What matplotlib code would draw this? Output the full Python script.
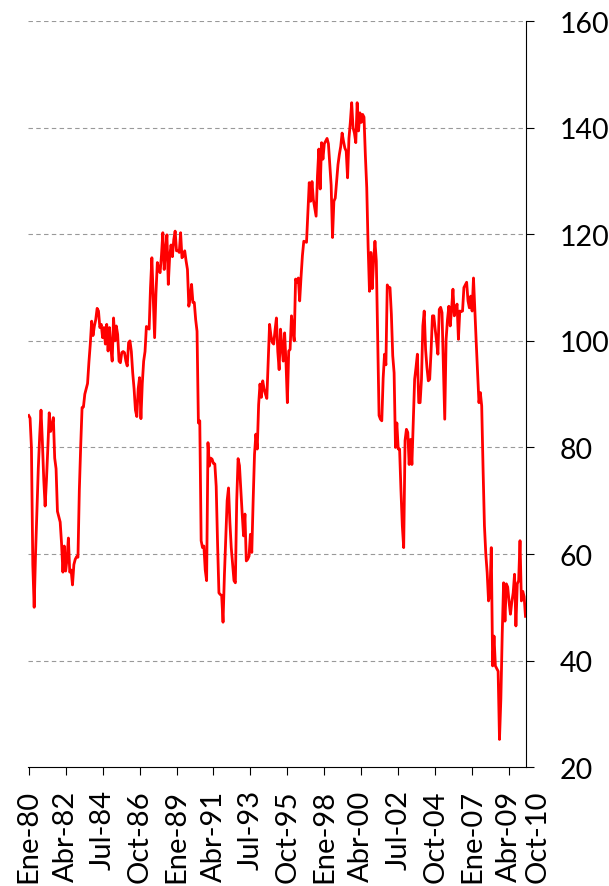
import matplotlib
matplotlib.use("Agg")
import matplotlib.pyplot as plt
import matplotlib.transforms as mtransforms
import numpy as np

# monthly index, Ene-80 .. Abr-10
values_1980s = [
    86, 85.5, 80, 58, 50, 60, 68, 76, 82, 87, 81, 74,
    69, 74, 80, 86.5, 83, 84, 85.6, 78, 76, 68, 67, 66,
    62, 56.6, 61.5, 56.8, 59, 63, 56.6, 57, 54.2, 58, 59, 59.5,
    59.4, 72, 80.3, 87.5, 87.6, 90, 91, 92, 96, 99.4, 103.7, 101,
    102.8, 104, 106.1, 105.6, 102.5, 103.1, 100.6, 102.5, 99.4, 103.1, 98.1, 102.5,
    98.7, 96.2, 104.3, 100, 102.8, 101.2, 96.2, 95.9, 97.8, 98, 97.8, 96.2,
    95.3, 99.7, 100, 98, 94, 91, 87, 85.8, 91, 93.1, 85.4, 92,
    96.2, 98, 102.7, 102.5, 102.2, 110, 115.6, 108, 100.6, 109, 114.7, 113.5,
    112.8, 116, 120.3, 113.4, 117, 119.9, 110.6, 115.8, 118, 115.8, 119, 120.6,
    116.9, 117, 116.6, 120.3, 115.6, 116, 116.9, 115, 113.4, 106.5, 108, 110.6,
]
values_1990s = [
    107.2, 107.2, 104, 101.8, 84.6, 85, 62.5, 61.2, 61.5, 57, 55, 80.9,
    76.5, 78, 77.8, 77, 76.9, 72.7, 62, 52.7, 52.4, 52.2, 47.2, 56,
    62.8, 70, 72.4, 66, 61.2, 58, 55, 54.6, 70, 77.9, 76.6, 72,
    67.5, 63.4, 67.5, 58.7, 59, 59.6, 63.7, 60.3, 70, 78.7, 82.5, 79.7,
    88, 91.9, 89.4, 92.5, 91, 90, 89.2, 96, 103.1, 101, 99.7, 99.4,
    102, 104.3, 98, 94.6, 102.2, 99, 96.2, 101.5, 96, 88.4, 98.1, 98.4,
    104.7, 102, 100, 111.6, 111, 111.8, 107.5, 112, 116, 118.7, 118.6, 118.5,
    124, 129.7, 126.2, 129.9, 126.5, 125, 123.4, 131, 136, 128.5, 137.2, 134.1,
    137, 137.5, 138, 137, 133, 129.2, 119.4, 126.2, 126.8, 130, 133.1, 135,
    136.5, 139, 137.5, 136.2, 135.6, 130.6, 138, 141, 144.7, 140, 139, 137.2,
]
values_2000s = [
    144.7, 139.4, 142.8, 141, 142.5, 142, 134.8, 128.8, 117.8, 109.3, 116.6, 109.8,
    115, 118.7, 115, 100, 86, 85.3, 85, 93, 97.5, 95.5, 110.5, 110,
    110, 105, 97.2, 94, 80, 84.6, 79.7, 79.7, 72, 65.3, 61.2, 81.3,
    83.4, 82.8, 76.8, 81.5, 76.8, 85, 92.8, 95, 97.5, 88.4, 88.4, 92.8,
    102.8, 105.6, 98.4, 95, 92.5, 92.8, 98, 104.7, 104.7, 102.2, 100, 97.5,
    105.9, 106.3, 105.3, 95, 85.3, 100.3, 104, 106.5, 102.8, 106, 109.7, 104.7,
    106, 106.9, 100.3, 105.6, 105.5, 105.6, 110, 110.5, 111, 107.5, 106.2, 108.4,
    105.6, 111.8, 105.6, 99.7, 94, 88.4, 90.3, 87.8, 76, 65.3, 60, 56.5,
    51.2, 52.4, 61.2, 39, 44.6, 39, 38.5, 38, 25.2, 32.8, 45, 54.6,
    47.4, 54.4, 53.8, 51, 48.7, 51, 52.7, 56.2, 46.5, 54.4, 55, 62.5,
]
values_2010 = [51.2, 53, 52, 48.3]

tick_months = [0, 27, 54, 81, 108, 135, 162, 189, 216, 243, 270, 297, 324, 351]
tick_labels = ["Ene-80", "Abr-82", "Jul-84", "Oct-86", "Ene-89", "Abr-91", "Jul-93",
               "Oct-95", "Ene-98", "Abr-00", "Jul-02", "Oct-04", "Ene-07", "Abr-09"]
end_label_month = 372
end_label = "Oct-10"
y_ticks = [20, 40, 60, 80, 100, 120, 140, 160]

values = np.array(values_1980s + values_1990s + values_2000s + values_2010)
months = np.arange(len(values))

plt.rcParams["font.family"] = ["Lato", "DejaVu Sans"]

fig = plt.figure(figsize=(6.09, 8.87), dpi=100)
ax = fig.add_axes([0.046, 0.134, 0.818, 0.841])

ax.plot(months, values, color="#FF0000", linewidth=2.0, solid_joinstyle="round")

ax.set_xlim(-0.5, len(values) - 0.5)
ax.set_ylim(20, 160)
ax.set_yticks(y_ticks)
ax.yaxis.tick_right()
ax.tick_params(axis="y", direction="out", length=6, width=0.8, pad=18, labelsize=20.5)
ax.set_xticks(tick_months)
ax.set_xticklabels(tick_labels, rotation=90)
ax.tick_params(axis="x", direction="out", length=6, width=0.8, pad=10, labelsize=21)

for v in y_ticks[1:]:
    ax.axhline(v, color="#999999", linewidth=0.8, linestyle=(0, (4, 3)), zorder=0)

ax.spines["left"].set_visible(False)
ax.spines["top"].set_visible(False)
ax.spines["right"].set_linewidth(0.8)
ax.spines["bottom"].set_linewidth(0.8)

# last label sits past the end of the series, like the source chart
offset = mtransforms.offset_copy(ax.get_xaxis_transform(), fig=fig, x=0, y=-16, units="points")
ax.text(end_label_month, 0, end_label, transform=offset, rotation=90,
        ha="center", va="top", fontsize=21, clip_on=False)

fig.savefig("out.png", dpi=100)
